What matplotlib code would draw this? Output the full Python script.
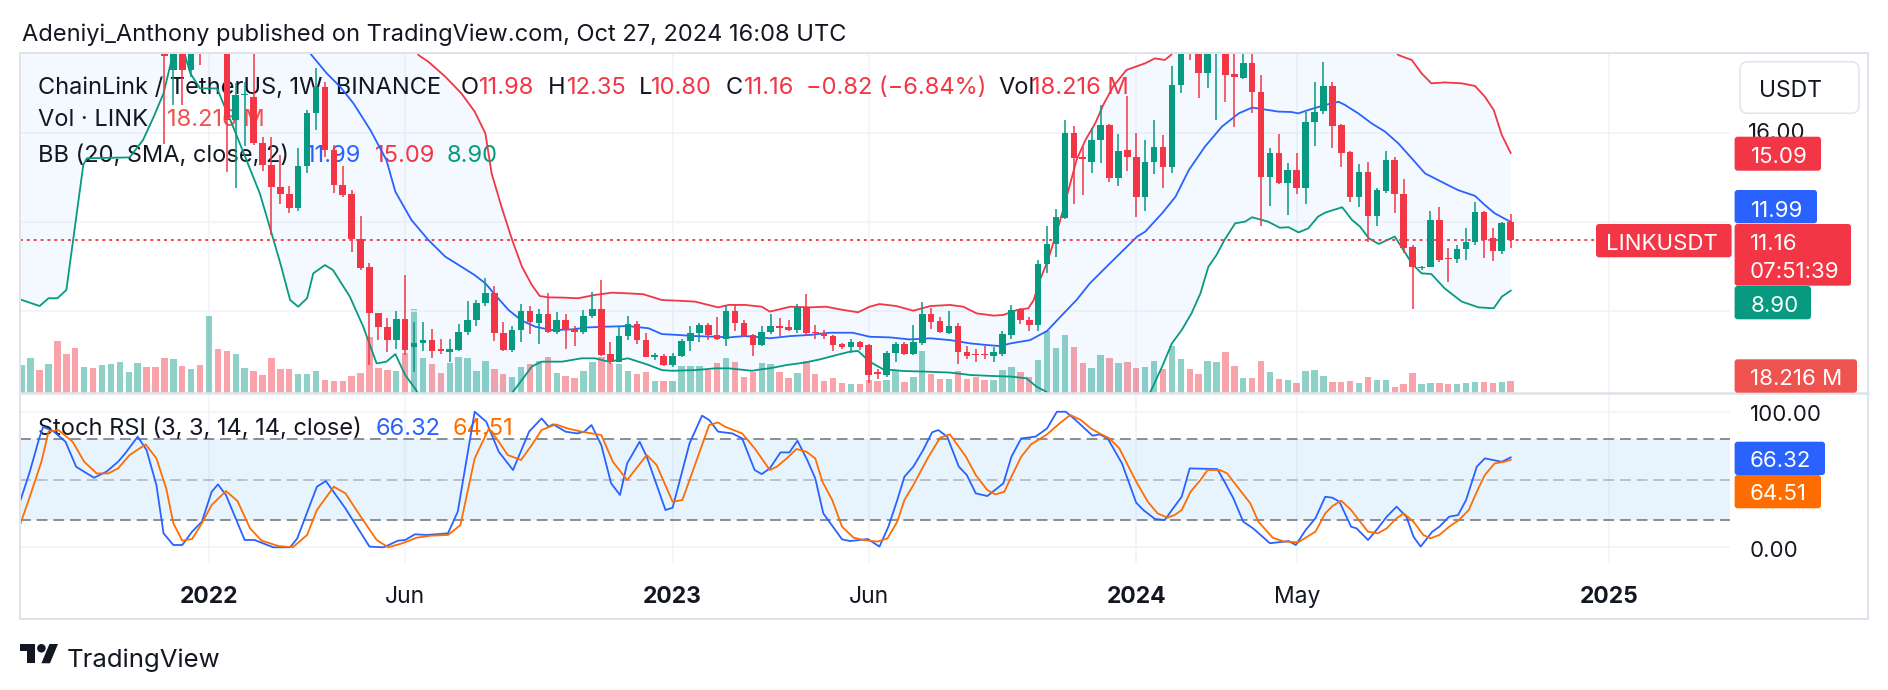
import numpy as np
import matplotlib
matplotlib.use('Agg')
import matplotlib.pyplot as plt
import matplotlib.transforms as mtransforms
from matplotlib.patches import FancyBboxPatch, Polygon, Circle
from matplotlib.lines import Line2D

plt.rcParams['font.family'] = ['Inter', 'DejaVu Sans']

W, H = 1888, 690
GREEN = '#089981'
RED = '#f23645'
BLUE = '#2962ff'
ORANGE = '#ff6d00'
TEXT = '#131722'
GRID = '#f0f3fa'
BORDER = '#e0e3eb'

# ---- weekly LINK/USDT candles, week 0 = 3 Jan 2022, first bar = 9 Aug 2021
FIRST_WEEK = -21
opens = [22.5, 25.5, 26.0, 24.5, 30.0, 27.0, 26.0, 23.0, 26.0, 25.0, 27.0, 29.0, 31.0, 33.0, 35.0, 26.0, 24.5, 18.82, 20.5, 18.82, 20.5,
         20.0, 25.0, 23.0, 16.57, 17.69, 17.62, 15.52, 14.55, 13.58, 13.25, 12.63, 14.5, 16.87, 18.07, 15.22, 13.65, 13.25, 11.22, 9.98, 7.88, 7.28,
         6.68, 7.61, 6.38, 6.53, 6.68, 6.27, 6.15, 6.25, 7.05, 7.6, 8.33, 8.78, 7.0, 6.23, 7.15, 7.98, 7.45, 7.83, 7.05, 7.6, 7.16,
         7.05, 7.75, 8.08, 6.05, 5.7, 6.85, 7.4, 6.68, 5.93, 5.98, 5.56, 5.95, 6.65, 6.98, 7.35, 6.9, 6.75, 7.98, 7.43, 6.9, 6.45,
         7.05, 7.3, 7.25, 7.13, 8.15, 7.05, 7.0, 6.85, 6.5, 6.38, 6.6, 6.45, 5.25, 5.1, 6.1, 6.5, 6.05, 6.55, 7.85, 7.55, 7.0,
         7.3, 6.15, 6.05, 6.05, 5.97, 6.07, 6.9, 8.03, 7.6, 7.35, 10.1, 11.0, 12.15, 15.97, 14.9, 14.7, 15.65, 16.35, 13.95, 15.22, 14.9,
         13.1, 14.7, 15.35, 14.45, 18.15, 20.2, 19.9, 18.67, 20.0, 20.3, 18.64, 18.45, 19.12, 17.85, 14.03, 15.1, 13.73, 14.32, 13.5, 16.5, 16.97,
         18.1, 16.35, 15.15, 13.1, 14.25, 12.27, 13.4, 14.77, 13.25, 10.85, 9.9, 9.98, 12.08, 10.37, 10.32, 10.76, 11.07, 12.42, 11.25, 10.7, 11.98]
highs = [27.0, 30.0, 27.5, 31.0, 35.0, 30.0, 27.0, 27.0, 27.5, 29.0, 30.0, 32.0, 35.0, 38.0, 35.5, 27.5, 25.0, 21.0, 21.5, 21.0, 22.0,
         26.5, 27.5, 24.5, 18.22, 18.3, 19.8, 15.82, 15.82, 15.0, 13.6, 15.3, 17.0, 18.9, 18.3, 15.45, 14.5, 13.43, 12.26, 10.16, 7.9, 7.66,
         8.0, 9.6, 7.5, 7.5, 7.2, 6.75, 6.75, 7.4, 8.45, 8.5, 9.45, 9.1, 7.5, 7.3, 8.3, 8.22, 8.08, 8.8, 7.95, 7.85, 7.3,
         8.05, 8.85, 9.4, 6.6, 7.3, 7.75, 7.55, 7.0, 6.1, 6.06, 6.1, 6.75, 7.3, 7.45, 7.45, 7.73, 8.25, 8.3, 7.6, 6.95, 7.3,
         7.85, 7.65, 7.6, 8.3, 8.75, 7.35, 7.15, 6.9, 6.55, 6.75, 6.65, 6.5, 5.4, 6.2, 6.6, 6.6, 7.35, 8.4, 8.1, 7.7, 8.0,
         7.45, 6.4, 6.3, 6.4, 6.35, 7.1, 8.25, 8.1, 7.7, 10.3, 11.8, 12.55, 16.55, 16.3, 15.35, 16.2, 17.25, 16.4, 15.95, 17.65, 16.0,
         15.67, 16.55, 15.9, 19.0, 20.5, 21.5, 20.3, 20.5, 21.0, 20.8, 20.0, 19.9, 19.9, 18.6, 15.3, 15.95, 14.65, 15.1, 16.95, 18.3, 19.17,
         18.3, 16.4, 15.2, 14.6, 14.7, 13.5, 15.17, 14.9, 13.9, 10.95, 10.0, 12.47, 12.66, 10.8, 10.95, 11.7, 12.9, 12.5, 11.7, 12.0, 12.35]
lows = [22.0, 24.0, 23.5, 24.0, 22.0, 25.0, 20.5, 22.0, 24.0, 24.0, 26.0, 27.0, 29.0, 31.0, 25.0, 23.0, 15.5, 17.25, 17.25, 18.5, 19.05,
        19.8, 21.5, 14.25, 13.5, 15.4, 15.45, 14.3, 11.4, 12.8, 12.38, 12.5, 14.2, 16.1, 14.92, 13.3, 13.13, 10.65, 9.83, 5.56, 6.68, 6.16,
        6.3, 6.0, 5.26, 6.2, 5.86, 6.05, 5.7, 6.2, 6.9, 7.3, 8.2, 6.65, 6.2, 6.15, 6.6, 6.97, 6.5, 7.0, 6.95, 6.3, 6.4,
        6.95, 7.65, 5.95, 5.6, 5.7, 6.7, 6.5, 5.9, 5.8, 5.5, 5.45, 5.9, 6.2, 6.6, 6.7, 6.7, 6.4, 7.1, 6.8, 5.95, 6.4,
        6.95, 6.85, 7.1, 7.0, 6.85, 6.75, 6.75, 6.2, 6.3, 6.1, 6.25, 4.75, 4.95, 5.0, 5.7, 6.0, 6.0, 6.45, 7.2, 7.0, 6.95,
        5.6, 5.85, 5.7, 5.85, 5.7, 5.95, 6.75, 7.4, 7.1, 7.1, 9.7, 10.4, 12.1, 12.8, 13.2, 14.2, 14.65, 13.8, 13.6, 14.3, 12.2,
        12.5, 14.15, 13.5, 14.2, 17.8, 19.27, 17.55, 17.99, 16.57, 17.4, 16.27, 18.4, 16.87, 11.8, 12.7, 13.7, 12.3, 13.25, 12.8, 15.4, 16.85,
        15.3, 14.47, 12.9, 12.65, 11.1, 11.8, 13.3, 12.4, 10.6, 8.06, 9.85, 9.95, 10.2, 9.28, 10.15, 10.3, 10.95, 10.35, 10.25, 10.55, 10.80]
closes = [25.5, 26.0, 24.5, 30.0, 27.0, 26.0, 23.0, 26.0, 25.0, 27.0, 29.0, 31.0, 33.0, 35.0, 26.0, 24.5, 19.45, 20.5, 18.82, 20.5, 20.0,
          25.0, 23.0, 16.57, 17.69, 17.75, 15.52, 14.55, 13.58, 13.25, 12.63, 14.5, 16.87, 18.07, 15.22, 13.65, 13.2, 11.22, 9.9, 7.88, 7.28, 6.68,
          7.61, 6.23, 6.53, 6.68, 6.2, 6.18, 6.3, 7.05, 7.6, 8.33, 8.78, 7.0, 6.23, 7.15, 7.98, 7.5, 7.83, 7.05, 7.6, 7.13, 7.05,
          7.75, 8.08, 6.0, 5.7, 6.85, 7.4, 6.68, 5.93, 6.0, 5.56, 5.95, 6.65, 6.98, 7.35, 6.9, 6.75, 7.98, 7.43, 6.85, 6.45, 7.05,
          7.3, 7.22, 7.15, 8.15, 7.0, 6.98, 6.85, 6.45, 6.38, 6.6, 6.38, 5.1, 5.17, 6.1, 6.5, 6.05, 6.6, 7.85, 7.5, 7.05, 7.3,
          6.15, 5.95, 6.0, 6.0, 6.13, 6.95, 8.03, 7.58, 7.35, 10.1, 11.0, 12.2, 15.97, 14.85, 14.8, 15.65, 16.35, 13.95, 15.2, 14.9, 13.1,
          14.7, 15.35, 14.45, 18.15, 20.2, 19.9, 18.67, 20.0, 20.3, 18.6, 18.52, 19.12, 17.85, 14.03, 15.1, 13.73, 14.32, 13.5, 16.5, 16.95, 18.1,
          16.3, 15.1, 13.1, 14.25, 12.27, 13.42, 14.77, 13.25, 10.8, 9.95, 9.98, 12.08, 10.28, 10.33, 10.76, 11.1, 12.42, 11.18, 10.7, 11.93, 11.16]
volumes = [41.7, 51.5, 34.3, 43.1, 76.9, 57.8, 67.1, 39.2, 37.7, 41.7, 43.1, 46.6, 31.9, 45.1, 39.2, 39.2, 52.4, 50.5, 40.7, 36.3, 41.7,
           114.2, 64.7, 62.7, 58.3, 37.7, 32.8, 27.0, 51.5, 35.8, 35.8, 28.9, 28.9, 32.8, 19.6, 18.1, 18.1, 26.0, 30.4, 82.3, 37.7, 34.3,
           32.8, 58.8, 123.5, 52.4, 42.6, 30.4, 45.1, 53.9, 51.5, 33.3, 47.5, 35.3, 27.9, 24.5, 39.2, 43.1, 47.5, 53.9, 29.4, 26.0, 22.1,
           33.3, 46.6, 53.9, 44.1, 42.6, 32.8, 27.9, 31.9, 18.6, 18.6, 18.6, 40.2, 40.7, 40.7, 34.3, 44.1, 51.5, 46.6, 24.5, 31.9, 44.1,
           43.1, 31.9, 23.0, 30.4, 48.0, 28.9, 18.6, 22.1, 14.7, 13.7, 13.7, 19.6, 18.6, 19.6, 33.3, 17.2, 24.5, 62.7, 27.9, 21.1, 21.1,
           33.3, 21.1, 23.5, 19.6, 19.6, 34.3, 39.2, 30.9, 24.5, 49.0, 92.1, 66.2, 85.8, 67.6, 44.1, 36.8, 56.4, 51.5, 44.1, 45.6, 36.8,
           39.2, 48.0, 35.8, 70.1, 50.5, 35.8, 28.4, 48.0, 46.6, 61.3, 40.7, 23.0, 23.0, 48.0, 31.9, 21.1, 19.6, 15.7, 32.8, 34.3, 26.0,
           17.2, 17.2, 18.1, 15.7, 24.5, 19.6, 19.6, 9.8, 13.7, 30.4, 13.2, 14.7, 14.7, 13.2, 13.2, 14.7, 17.2, 17.2, 15.7, 17.2, 18.216]

# ---- Bollinger bands (20, SMA, 2) as (week, price)
bb_upper = [(-21.2, 40.0), (-10, 38.0), (0, 36.0), (10, 30.0), (18, 25.0), (22, 21.0), (23.5, 19.49), (24.6, 19.19), (26.5, 18.52),
            (28.3, 17.77), (29.8, 16.95), (31.0, 15.97), (31.7, 14.17), (32.8, 12.68), (34.0, 11.18), (35.1, 9.98), (36.2, 9.16),
            (37.1, 8.66), (38.1, 8.60), (39.6, 8.59), (41.4, 8.56), (43.3, 8.71), (45.2, 8.81), (47.0, 8.78), (48.7, 8.74), (50.8, 8.48),
            (52.6, 8.45), (54.5, 8.41), (57.1, 8.15), (58.3, 8.26), (60.1, 8.26), (62.0, 8.18), (62.9, 7.96), (65.2, 8.18), (67.4, 8.15),
            (69.2, 8.18), (71.2, 8.03), (72.8, 7.93), (74.1, 8.18), (75.2, 8.30), (77.1, 8.21), (79.0, 8.00), (80.9, 8.21), (83.1, 8.26),
            (84.6, 8.18), (86.1, 7.88), (88.0, 7.78), (89.1, 7.81), (90.6, 8.03), (91.9, 8.11), (92.5, 8.48), (93.2, 9.38), (94.1, 10.28),
            (95.1, 11.55), (95.8, 12.53), (96.6, 13.72), (97.3, 14.77), (98.3, 15.67), (99.4, 16.42), (100.3, 17.25), (101.4, 18.07),
            (102.9, 18.82), (105.0, 19.12), (106.1, 19.34), (107.2, 19.27), (107.9, 19.49), (112, 22.5), (120, 23.5), (128, 22.5),
            (133.4, 19.49), (134.9, 19.27), (136.0, 18.67), (137.1, 18.22), (138.6, 18.26), (140.5, 18.22), (142.0, 18.10),
            (143.1, 17.62), (144.1, 17.02), (145.0, 15.90), (146.0, 15.09)]
bb_basis = [(-21.2, 22.0), (-10, 26.0), (0, 26.0), (5, 23.0), (10, 20.3), (11.5, 19.49), (13.2, 18.67), (14.7, 18.07), (16.2, 17.32),
            (18.1, 16.12), (19.9, 14.77), (20.9, 13.35), (22.7, 12.08), (24.6, 11.18), (26.5, 10.43), (28.3, 9.98), (29.8, 9.60),
            (31.0, 9.23), (32.1, 8.71), (33.6, 8.03), (35.1, 7.55), (36.6, 7.28), (38.4, 7.13), (40.7, 7.16), (42.5, 7.25), (44.4, 7.28),
            (47.0, 7.31), (49.3, 7.21), (50.8, 6.95), (52.6, 6.91), (54.5, 6.86), (56.8, 6.83), (58.3, 6.80), (60.1, 6.86), (62.0, 6.80),
            (62.9, 6.76), (65.2, 6.86), (67.4, 6.91), (69.6, 7.01), (72.2, 7.01), (74.1, 6.83), (76.4, 6.80), (78.6, 6.71), (80.9, 6.76),
            (83.1, 6.68), (85.4, 6.53), (87.2, 6.46), (88.7, 6.41), (89.9, 6.53), (92.1, 6.68), (94.0, 7.09), (95.5, 7.73), (97.3, 8.48),
            (98.8, 9.23), (100.3, 9.83), (102.2, 10.58), (104.1, 11.33), (105.0, 11.55), (106.9, 12.38), (108.4, 13.12), (109.9, 14.32),
            (111.7, 15.37), (113.6, 16.27), (115.5, 16.87), (117.0, 17.13), (118.8, 17.02), (119.9, 16.95), (121.4, 16.93),
            (122.2, 16.87), (123.3, 17.02), (125.2, 17.25), (126.7, 17.39), (127.4, 17.25), (128.9, 16.87), (130.4, 16.42),
            (131.9, 16.05), (133.4, 15.52), (134.9, 14.85), (136.4, 14.17), (138.6, 13.72), (140.1, 13.42), (142.0, 13.16),
            (143.1, 12.75), (144.2, 12.38), (146.0, 11.99)]
bb_lower = [(-21.2, 8.51), (-19.0, 8.21), (-18.0, 8.56), (-17.0, 8.56), (-16.0, 8.93), (-14.1, 14.55), (-13.7, 14.85), (-8.9, 14.89),
            (-7.4, 15.67), (-6.2, 16.72), (-5.1, 17.77), (-4.2, 19.27), (-3.0, 19.9), (-2.1, 18.67), (-1.0, 17.99), (0.9, 17.99),
            (1.6, 17.32), (2.7, 16.27), (4.2, 14.77), (5.7, 13.27), (6.8, 11.78), (8.0, 10.13), (9.1, 8.48), (10.0, 8.18), (11.0, 8.56),
            (11.7, 9.68), (13.0, 10.05), (13.9, 9.83), (15.8, 8.63), (17.3, 7.28), (18.8, 5.63), (19.9, 5.71), (20.9, 6.05), (22.0, 5.11),
            (23.1, 4.51), (25, 3.3), (28, 2.5), (31, 2.8), (33, 3.8), (34.1, 4.36), (35.1, 4.89), (36.2, 5.49), (37.3, 5.71), (39.6, 5.71),
            (41.8, 5.86), (43.3, 5.86), (44.8, 5.71), (47.0, 5.86), (49.3, 5.56), (50.8, 5.33), (51.9, 5.30), (54.5, 5.33), (56.8, 5.41),
            (58.3, 5.41), (60.9, 5.30), (62.0, 5.37), (62.9, 5.41), (64.8, 5.56), (66.7, 5.66), (68.5, 5.81), (70.4, 6.01), (71.9, 6.16),
            (72.8, 6.19), (74.1, 5.71), (75.6, 5.37), (77.9, 5.29), (80.5, 5.26), (83.1, 5.22), (85.4, 5.11), (87.6, 5.07), (89.9, 5.04),
            (91.7, 4.96), (92.8, 4.59), (93.9, 4.36), (96, 3.0), (99, 1.8), (102, 2.5), (104.5, 3.8), (105.6, 4.36), (106.9, 5.48),
            (108.0, 6.53), (109.1, 7.13), (110.2, 7.88), (111.2, 8.78), (112.1, 9.98), (113.0, 10.50), (113.9, 11.18), (115.1, 11.93),
            (116.2, 12.0), (117.0, 12.20), (118.8, 12.0), (120.1, 11.73), (121.1, 11.75), (122.2, 11.52), (123.3, 11.70), (124.4, 12.23),
            (125.2, 12.41), (127.1, 12.65), (128.2, 12.08), (129.1, 11.78), (130.1, 11.25), (131.2, 11.0), (133.0, 11.33), (134.2, 10.58),
            (134.9, 10.13), (136.0, 9.68), (137.1, 9.65), (138.6, 9.0), (140.5, 8.41), (142.4, 8.15), (144.1, 8.11), (145.0, 8.63),
            (146.0, 8.90)]

# ---- Stoch RSI (3, 3, 14, 14) as (week, value)
stoch_k = [(-21.2, 33.6), (-20.1, 55.8), (-19.05, 80.3), (-18.6, 88.9), (-17.4, 85.3), (-16.1, 77.9), (-14.9, 59.4), (-12.9, 51.3),
           (-11.5, 55.8), (-10.2, 63.1), (-9.4, 69.3), (-8.0, 81.6), (-7.0, 71.7), (-5.9, 45.9), (-5.1, 10.3), (-4.0, 1.7), (-3.0, 1.7),
           (-1.9, 11.5), (-0.8, 18.9), (0.3, 41.0), (1.0, 46.4), (1.9, 38.6), (4.0, 5.4), (5.1, 5.4), (7.2, 0.0), (9.1, 0.0), (9.9, 6.6),
           (12.1, 44.7), (13.1, 48.9), (15.3, 28.7), (18.0, 0.5), (19.6, 0.0), (21.2, 4.9), (22.0, 5.4), (23.1, 9.6), (24.4, 9.1),
           (26.8, 10.3), (27.9, 26.3), (29.8, 100.0), (31.1, 92.6), (32.5, 70.5), (34.1, 57.0), (35.9, 85.3), (37.3, 95.1), (38.1, 88.9),
           (38.6, 90.7), (40.0, 85.3), (41.3, 84.0), (42.1, 85.3), (42.9, 90.2), (44.0, 75.4), (45.1, 47.2), (46.1, 38.6), (46.9, 61.9),
           (48.3, 77.9), (49.1, 66.8), (51.2, 27.5), (52.0, 29.2), (53.9, 76.7), (55.3, 97.1), (56.1, 93.9), (57.1, 85.3), (58.7, 84.0),
           (59.8, 80.3), (61.2, 57.0), (62.0, 54.0), (62.9, 58.2), (64.1, 70.0), (65.1, 70.0), (66.0, 78.6), (67.1, 64.4), (68.0, 50.8),
           (68.9, 25.0), (71.0, 5.9), (71.9, 4.6), (73.9, 6.1), (75.2, 0.5), (76.2, 15.2), (77.2, 34.9), (78.0, 52.1), (79.0, 59.5),
           (80.1, 71.7), (81.1, 84.8), (81.8, 86.5), (82.8, 81.6), (84.1, 59.5), (85.0, 53.3), (86.0, 39.8), (87.3, 37.8), (89.1, 47.2),
           (90.0, 66.8), (91.1, 80.3), (92.7, 81.6), (94.0, 87.7), (95.1, 100.0), (96.1, 100.0), (97.2, 93.9), (99.1, 82.3), (99.9, 83.3),
           (100.8, 80.3), (102.4, 61.9), (104.0, 32.9), (104.8, 27.5), (106.1, 20.9), (107.2, 20.1), (108.0, 27.5), (109.1, 37.3),
           (110.0, 58.2), (113.1, 57.7), (113.9, 48.4), (114.9, 36.1), (116.0, 18.9), (117.1, 14.0), (119.0, 3.0), (120.6, 4.2),
           (121.1, 4.6), (121.9, 1.7), (123.0, 12.7), (124.1, 21.4), (125.2, 37.3), (126.0, 36.6), (126.8, 33.6), (128.1, 15.2),
           (128.7, 14.0), (130.0, 5.4), (131.1, 14.0), (132.1, 22.6), (133.2, 30.0), (134.3, 22.6), (135.1, 7.8), (135.9, 0.5),
           (137.2, 11.5), (138.0, 15.2), (139.1, 22.6), (140.1, 23.8), (141.0, 34.9), (142.2, 59.5), (143.1, 65.6), (145.0, 63.1),
           (146.0, 66.32)]
stoch_d = [(-21.2, 16.4), (-20.1, 37.3), (-18.8, 63.1), (-18.0, 85.3), (-16.9, 86.5), (-15.3, 77.9), (-14.0, 63.1), (-12.6, 54.5),
           (-11.3, 54.5), (-10.2, 58.2), (-8.9, 68.1), (-7.1, 75.9), (-5.9, 65.6), (-4.8, 43.5), (-4.0, 17.7), (-3.0, 4.9), (-1.9, 6.1),
           (-0.8, 17.7), (0.3, 31.2), (1.9, 41.5), (3.2, 34.1), (4.6, 14.0), (5.9, 4.9), (7.8, 0.9), (9.4, 0.0), (11.0, 9.1), (12.1, 27.5),
           (14.0, 44.7), (15.3, 39.8), (16.9, 23.8), (18.8, 5.4), (20.1, 0.0), (21.7, 3.0), (23.3, 7.1), (24.9, 8.6), (26.8, 9.1),
           (28.2, 16.4), (29.8, 65.6), (31.4, 87.7), (32.5, 77.9), (33.5, 68.1), (35.0, 64.4), (36.2, 75.4), (37.3, 86.5), (38.9, 90.7),
           (40.2, 87.7), (41.8, 85.3), (44.0, 82.8), (45.3, 63.1), (46.9, 49.6), (49.1, 68.1), (50.2, 60.7), (52.0, 33.6), (53.1, 34.9),
           (56.1, 90.2), (57.1, 92.1), (57.9, 88.9), (59.8, 84.0), (61.2, 73.0), (62.9, 57.0), (63.7, 59.5), (64.8, 65.6), (65.9, 72.5),
           (67.0, 70.5), (68.0, 65.6), (68.8, 48.4), (69.9, 34.9), (71.0, 15.2), (72.3, 7.1), (73.4, 5.4), (75.0, 4.2), (76.1, 6.6),
           (77.2, 18.9), (78.0, 34.9), (79.0, 45.9), (80.6, 65.6), (82.0, 80.8), (83.1, 83.3), (84.1, 74.2), (84.9, 66.8), (86.0, 53.3),
           (87.3, 42.2), (88.2, 39.0), (89.2, 41.0), (90.0, 52.1), (91.1, 66.8), (92.2, 75.9), (94.0, 83.3), (95.4, 91.4), (96.6, 97.6),
           (97.8, 93.9), (98.9, 87.7), (99.9, 84.0), (101.0, 80.3), (102.1, 73.0), (104.0, 48.4), (105.3, 33.6), (106.4, 25.0),
           (107.5, 21.9), (108.3, 23.8), (109.1, 27.5), (110.1, 41.0), (111.2, 49.6), (112.0, 57.0), (113.4, 57.0), (114.2, 54.5),
           (115.2, 45.9), (116.8, 32.4), (117.7, 18.9), (119.3, 7.1), (120.6, 4.2), (122.2, 3.7), (123.0, 7.1), (124.1, 11.5),
           (125.2, 25.0), (126.0, 30.4), (127.0, 34.4), (128.1, 27.5), (130.0, 11.5), (131.1, 10.3), (132.1, 14.0), (133.2, 21.4),
           (134.0, 25.0), (135.1, 18.9), (136.2, 9.1), (137.0, 6.6), (138.0, 9.1), (139.1, 15.2), (140.2, 20.1), (141.3, 27.5),
           (142.2, 41.0), (143.1, 53.3), (144.2, 61.9), (145.3, 63.1), (146.0, 64.51)]

tick_weeks = [0, 22, 52, 74, 104, 122, 157]
tick_labels = ['2022', 'Jun', '2023', 'Jun', '2024', 'May', '2025']
tick_bold = [True, False, True, False, True, False, True]

# ---------------------------------------------------------------- figure
fig = plt.figure(figsize=(W / 100, H / 100), dpi=100)
fig.patch.set_facecolor('white')
px = mtransforms.Affine2D().scale(1 / W, -1 / H).translate(0, 1) + fig.transFigure


def box(l, t, r, b):
    return [l / W, 1 - b / H, (r - l) / W, (b - t) / H]


axv = fig.add_axes(box(20, 53.3, 1730, 393.3))
ax = fig.add_axes(box(20, 53.3, 1730, 393.3), sharex=axv)
axs = fig.add_axes(box(20, 393.3, 1730, 563.3), sharex=axv)
for a in (axv, ax, axs):
    a.set_axis_off()
axv.set_xlim(-21.2, 170.6)
ax.set_ylim(4.288, 19.569)
axv.set_ylim(0, 499.5)
axs.set_ylim(-11.8, 113.6)

# grid
for t in tick_weeks:
    axv.axvline(t, color=GRID, lw=1.1, zorder=0)
    axs.axvline(t, color=GRID, lw=1.1, zorder=0)
for p in (8, 12, 16):
    ax.axhline(p, color=GRID, lw=1.1, zorder=0)
for v in (0, 100):
    axs.axhline(v, color=GRID, lw=1.1, zorder=0)

weeks = np.arange(FIRST_WEEK, FIRST_WEEK + len(opens))
o, h, l, c = map(np.array, (opens, highs, lows, closes))
up = c >= o
cols = np.where(up, GREEN, RED)

# volume
axv.bar(weeks, volumes, width=0.72, color=cols, alpha=0.45, linewidth=0, zorder=1)

# bollinger
ux, uy = np.array(bb_upper).T
mx, my = np.array(bb_basis).T
lx, ly = np.array(bb_lower).T
ax.fill(np.r_[ux, lx[::-1]], np.r_[uy, ly[::-1]], color='#2196f3', alpha=0.05, lw=0, zorder=1)
ax.plot(ux, uy, color=RED, lw=1.3, zorder=2)
ax.plot(mx, my, color=BLUE, lw=1.3, zorder=2)
ax.plot(lx, ly, color=GREEN, lw=1.3, zorder=2)

# candles
ax.vlines(weeks, l, h, colors=cols, lw=1.1, zorder=3)
ax.bar(weeks, np.maximum(np.abs(c - o), 0.04), bottom=np.minimum(o, c), width=0.74,
       color=cols, linewidth=0, zorder=4)

# last price line
pl = mtransforms.blended_transform_factory(px, ax.transData)
ax.plot([20, 1596], [closes[-1]] * 2, transform=pl, color=RED, lw=1.3,
        ls=(0, (1.6, 2.2)), zorder=2.5)

# stoch rsi
axs.axhspan(20, 80, facecolor='#2196f3', alpha=0.1, lw=0, zorder=0.5)
axs.axhline(80, color='#787b86', lw=1.2, ls=(0, (6.5, 3.5)), zorder=1)
axs.axhline(50, color='#787b86', alpha=0.5, lw=1.2, ls=(0, (6.5, 3.5)), zorder=1)
axs.axhline(20, color='#787b86', lw=1.2, ls=(0, (6.5, 3.5)), zorder=1)
kx, ky = np.array(stoch_k).T
dx, dy = np.array(stoch_d).T
axs.plot(kx, ky, color=BLUE, lw=1.3, zorder=3)
axs.plot(dx, dy, color=ORANGE, lw=1.3, zorder=3)

# x labels
xl = mtransforms.blended_transform_factory(axs.transData, px)
for t, s, b in zip(tick_weeks, tick_labels, tick_bold):
    axs.text(t, 603.3, s, transform=xl, ha='center', va='baseline', fontsize=16.5,
             fontweight='bold' if b else 'normal', color=TEXT, clip_on=False)

# legends
FS = 17


def pieces(a, y, items):
    for x, s, col in items:
        a.text(x, y, s, transform=px, fontsize=FS, color=col, va='baseline', ha='left', zorder=1.5)


pieces(ax, 94.3, [(37.6, 'ChainLink / TetherUS, 1W, BINANCE', TEXT), (460.6, 'O', TEXT), (479, '11.98', RED),
                  (548, 'H', TEXT), (567, '12.35', RED), (639, 'L', TEXT), (651, '10.80', RED), (726, 'C', TEXT),
                  (744, '11.16', RED), (806, '\u22120.82 (\u22126.84%)', RED), (998, 'Vol', TEXT), (1031, '18.216 M', RED)])
pieces(ax, 126.5, [(37.6, 'Vol \u00b7 LINK', TEXT), (166.7, '18.216 M', '#ef5350')])
pieces(ax, 161.7, [(37.6, 'BB (20, SMA, close, 2)', TEXT), (306, '11.99', BLUE), (374.5, '15.09', RED), (446.6, '8.90', GREEN)])
pieces(axs, 435, [(37.6, 'Stoch RSI (3, 3, 14, 14, close)', TEXT), (375.7, '66.32', BLUE), (453, '64.51', ORANGE)])

# title and footer
fig.text(21.5, 40.7, 'Adeniyi_Anthony published on TradingView.com, Oct 27, 2024 16:08 UTC',
         transform=px, fontsize=17, color=TEXT, va='baseline')
fig.text(66.7, 666.7, 'TradingView', transform=px, fontsize=18.5, color=TEXT, va='baseline')
s_ = 1.07


def lg(pts):
    return [(20 + u * s_, 644 + (v - 4) * s_) for u, v in pts]


fig.add_artist(Polygon(lg([(0, 4), (14, 4), (14, 22), (7, 22), (7, 11), (0, 11)]), closed=True,
                       transform=px, facecolor=TEXT, edgecolor='none'))
fig.add_artist(Polygon(lg([(20, 22), (27.5, 4), (35.5, 4), (28, 22)]), closed=True,
                       transform=px, facecolor=TEXT, edgecolor='none'))
fig.add_artist(Circle((20 + 20 * s_, 644 + 4 * s_), 4 * s_, transform=px, facecolor=TEXT, edgecolor='none'))

# frame
for xs, ys, lw in [((20, 1868), (53.3, 53.3), 2), ((20, 1868), (619, 619), 2), ((20, 20), (53.3, 619), 2),
                   ((1868, 1868), (53.3, 619), 2), ((20, 1868), (393.3, 393.3), 2.6)]:
    fig.add_artist(Line2D(xs, ys, transform=px, color=BORDER, lw=lw * 0.72, zorder=3))

# price scale
AFS = 16
fig.text(1748, 139.3, '16.00', transform=px, fontsize=AFS, color=TEXT, va='baseline', zorder=3)
fig.text(1750, 420.7, '100.00', transform=px, fontsize=AFS, color=TEXT, va='baseline', zorder=3)
fig.text(1750, 556.7, '0.00', transform=px, fontsize=AFS, color=TEXT, va='baseline', zorder=3)

fig.add_artist(FancyBboxPatch((1740, 61.7), 119, 51.6, boxstyle='round,pad=0,rounding_size=8', transform=px,
                              facecolor='white', edgecolor=BORDER, lw=1.1, zorder=4))
fig.text(1790.7, 96.7, 'USDT', transform=px, fontsize=16.5, color=TEXT, va='baseline', ha='center', zorder=5)


def tag(l_, t_, r_, b_, color, texts):
    fig.add_artist(FancyBboxPatch((l_, t_), r_ - l_, b_ - t_, boxstyle='round,pad=0,rounding_size=3', transform=px,
                                  facecolor=color, edgecolor='none', zorder=4))
    for s, x, yb in texts:
        fig.text(x, yb, s, transform=px, fontsize=AFS, color='white', va='baseline', ha='left', zorder=5)


tag(1734.6, 136.7, 1821, 170.7, RED, [('15.09', 1751, 163.3)])
tag(1734.6, 190, 1817, 223.3, BLUE, [('11.99', 1751, 216.7)])
tag(1596, 224, 1731.6, 257.3, RED, [('LINKUSDT', 1606, 250)])
tag(1734.6, 224, 1851, 285.7, RED, [('11.16', 1750, 250), ('07:51:39', 1750, 278.3)])
tag(1734.6, 286, 1811, 319.3, GREEN, [('8.90', 1751, 311.7)])
tag(1734.6, 359.3, 1857, 392.7, '#ef5350', [('18.216 M', 1750, 385)])
tag(1734.6, 441.7, 1825, 475, BLUE, [('66.32', 1750, 466.7)])
tag(1734.6, 475, 1821, 508.3, ORANGE, [('64.51', 1750, 500)])

fig.savefig('out.png', dpi=100, facecolor='white')
